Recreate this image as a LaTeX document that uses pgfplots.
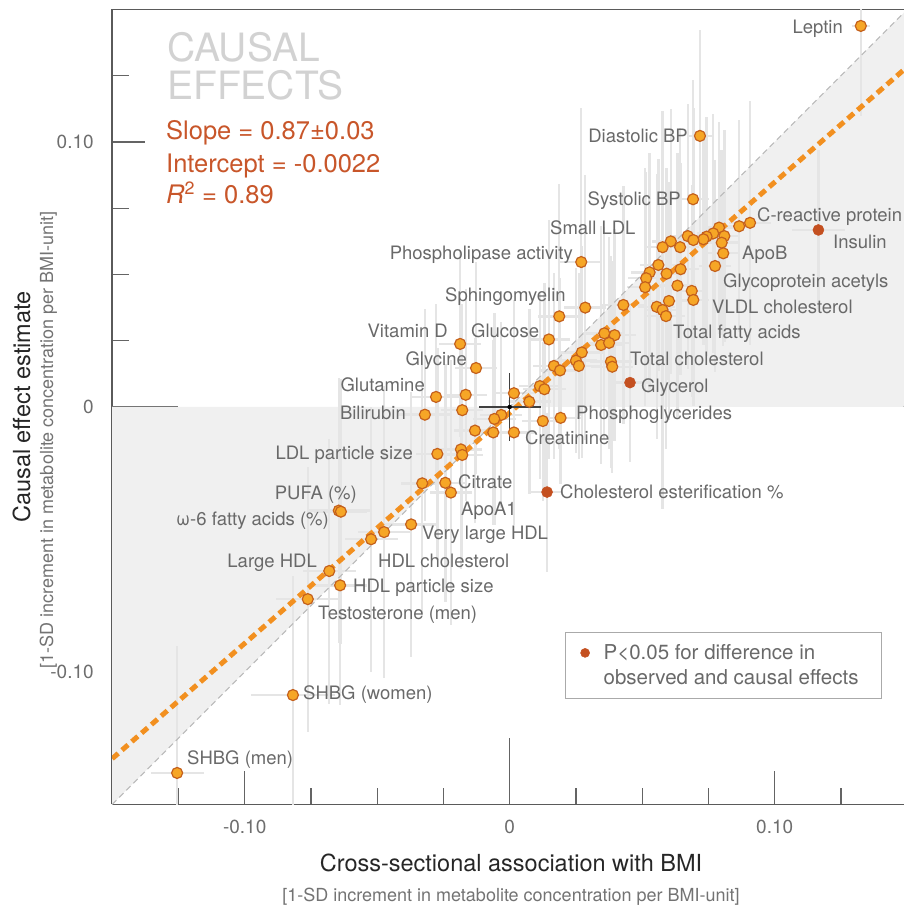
\documentclass[border=0pt]{standalone}
\usepackage{fontspec}
\setmainfont{TeX Gyre Heros}
\usepackage{pgfplots}
\pgfplotsset{compat=1.18}
\usepackage{pgfplotstable}

\definecolor{ptfill}{RGB}{246,166,38}
\definecolor{ptdraw}{RGB}{196,96,28}
\definecolor{sigcol}{RGB}{196,80,32}
\definecolor{fitorange}{RGB}{242,144,32}
\definecolor{stattext}{RGB}{200,86,42}
\definecolor{labelgray}{RGB}{105,105,105}
\definecolor{causalgray}{RGB}{210,210,210}
\definecolor{ebgray}{RGB}{229,229,229}
\definecolor{shade}{RGB}{240,240,240}
\definecolor{diaggray}{RGB}{185,185,185}
\definecolor{axisgray}{RGB}{90,90,90}
\definecolor{tickgray}{RGB}{100,100,100}
\definecolor{ticklabelgray}{RGB}{110,110,110}
\definecolor{legendgray}{RGB}{170,170,170}

\pgfplotstableread{
x y ex ey
0.1325 0.1438 0.0035 0.034
0.0718 0.1023 0.005 0.040
0.0692 0.0784 0.006 0.045
0.0907 0.0695 0.008 0.046
0.0866 0.0682 0.006 0.040
0.0790 0.0677 0.006 0.040
0.0810 0.0645 0.006 0.040
0.0800 0.0620 0.006 0.035
0.0806 0.0580 0.006 0.035
0.0775 0.0532 0.006 0.040
0.0768 0.0655 0.006 0.045
0.0743 0.0643 0.006 0.045
0.0731 0.0633 0.006 0.040
0.0672 0.0645 0.006 0.050
0.0693 0.0630 0.006 0.050
0.0608 0.0625 0.007 0.050
0.0577 0.0603 0.007 0.040
0.0643 0.0603 0.007 0.045
0.0561 0.0536 0.007 0.040
0.0528 0.0508 0.007 0.045
0.0592 0.0503 0.007 0.040
0.0645 0.0520 0.007 0.040
0.0515 0.0486 0.007 0.040
0.0511 0.0452 0.007 0.045
0.0633 0.0458 0.007 0.050
0.0687 0.0438 0.006 0.040
0.0693 0.0404 0.006 0.040
0.0601 0.0400 0.007 0.045
0.0555 0.0378 0.007 0.050
0.0577 0.0366 0.007 0.075
0.0590 0.0343 0.007 0.050
0.0429 0.0385 0.008 0.045
0.0285 0.0375 0.008 0.050
0.0187 0.0342 0.008 0.050
0.0270 0.0547 0.008 0.058
0.0148 0.0255 0.008 0.045
0.0357 0.0278 0.008 0.040
0.0396 0.0271 0.008 0.040
0.0345 0.0234 0.008 0.045
0.0375 0.0242 0.008 0.040
0.0272 0.0206 0.008 0.040
0.0250 0.0175 0.008 0.035
0.0261 0.0155 0.008 0.035
0.0382 0.0171 0.008 0.040
0.0387 0.0152 0.008 0.040
0.0167 0.0155 0.008 0.035
0.0190 0.0138 0.008 0.035
0.0114 0.0079 0.008 0.035
0.0131 0.0067 0.008 0.040
0.0016 0.0052 0.008 0.035
0.0074 0.0020 0.008 0.035
-0.0032 -0.0030 0.008 0.035
-0.0058 -0.0045 0.008 0.040
-0.0062 -0.0096 0.008 0.035
-0.0131 -0.0089 0.008 0.035
0.0016 -0.0096 0.008 0.035
0.0125 -0.0053 0.008 0.030
0.0192 -0.0041 0.008 0.025
-0.0187 0.0238 0.008 0.035
-0.0127 0.0147 0.008 0.040
-0.0278 0.0038 0.010 0.035
-0.0166 0.0046 0.008 0.040
-0.0320 -0.0029 0.010 0.040
-0.0179 -0.0012 0.008 0.040
-0.0273 -0.0177 0.008 0.040
-0.0184 -0.0160 0.008 0.045
-0.0179 -0.0181 0.008 0.040
-0.0330 -0.0288 0.008 0.050
-0.0243 -0.0286 0.008 0.045
-0.0222 -0.0323 0.008 0.050
-0.0372 -0.0443 0.010 0.050
-0.0474 -0.0472 0.010 0.055
-0.0523 -0.0499 0.010 0.050
-0.0681 -0.0619 0.010 0.050
-0.0640 -0.0673 0.010 0.045
-0.0762 -0.0725 0.012 0.050
-0.0645 -0.0391 0.012 0.050
-0.0637 -0.0395 0.010 0.050
-0.0818 -0.1087 0.016 0.045
-0.1255 -0.1381 0.010 0.048
}\ptdata

\pgfplotstableread{
x y ex ey
0.1165 0.0668 0.010 0.030
0.0454 0.0092 0.008 0.030
0.0141 -0.0321 0.006 0.030
}\sigdata

\begin{document}
\begin{tikzpicture}[x=1pt,y=1pt,
  lbl/.style={font=\fontsize{18.5}{18.5}\selectfont, text=labelgray, inner sep=0pt}]
\useasboundingbox (0,0) rectangle (904,910);
\begin{axis}[
  at={(112.2pt,105.5pt)}, anchor=south west,
  scale only axis, width=791.8pt, height=795pt,
  xmin=-0.15, xmax=0.1488, ymin=-0.15, ymax=0.15,
  axis x line*=box, axis y line*=left,
  axis line style={draw=axisgray, line width=1.5pt},
  xtick={-0.1,0.1}, xticklabels={-0.10,0.10},
  ytick={-0.1,0.1}, yticklabels={-0.10,0.10},
  extra x ticks={0}, extra x tick labels={0},
  extra y ticks={0}, extra y tick labels={0},
  extra tick style={major tick length=66pt},
  minor xtick={-0.125,-0.075,-0.05,-0.025,0.025,0.05,0.075,0.125},
  minor ytick={-0.125,-0.075,-0.05,-0.025,0.025,0.05,0.075,0.125},
  major tick length=33pt, minor tick length=16.5pt,
  tick align=inside,
  xtick pos=left, ytick pos=left,
  tick style={draw=tickgray, line width=1.2pt},
  tick label style={font=\fontsize{19}{19}\selectfont, text=ticklabelgray},
  xticklabel style={yshift=-12pt},
  yticklabel style={xshift=-15pt},
  legend style={at={(axis cs:0.0209,-0.0849)}, anchor=north west,
    draw=legendgray, line width=1pt, fill=white,
    font=\fontsize{20.5}{20.5}\selectfont, text=labelgray,
    inner xsep=11pt, inner ysep=10.5pt, row sep=5pt, column sep=12pt,
    nodes={text height=14.8pt, text depth=1pt, inner sep=2pt}},
  legend cell align=left,
  legend image post style={mark size=4.5pt},
]
\addplot[fill=shade, draw=none, forget plot] coordinates {(-0.15,-0.15) (-0.15,0) (0,0)};
\addplot[fill=shade, draw=none, forget plot] coordinates {(0,0) (0.16,0) (0.16,0.16)};
\addplot[only marks, mark=none, forget plot,
  error bars/.cd, x dir=both, x explicit, y dir=both, y explicit,
  error bar style={draw=ebgray, line width=2.4pt}, error mark=none]
  table[x=x, y=y, x error=ex, y error=ey] {\ptdata};
\addplot[only marks, mark=none, forget plot,
  error bars/.cd, x dir=both, x explicit, y dir=both, y explicit,
  error bar style={draw=ebgray, line width=2.4pt}, error mark=none]
  table[x=x, y=y, x error=ex, y error=ey] {\sigdata};
\addplot[draw=diaggray, line width=1pt, dash pattern=on 6pt off 4pt, forget plot]
  coordinates {(-0.15,-0.15) (0.15,0.15)};
\addplot[draw=fitorange, line width=5pt, dash pattern=on 8pt off 5pt, forget plot]
  coordinates {(-0.15,-0.1327) (0.1488,0.1273)};
\addplot[only marks, mark=none, forget plot,
  error bars/.cd, x dir=both, x fixed=0.0117, y dir=both, y fixed=0.013,
  error bar style={draw=black!75, line width=1.1pt}, error mark=none]
  coordinates {(0,0)};
\addplot[only marks, mark=*, mark size=5.5pt,
  mark options={fill=ptfill, draw=ptdraw, line width=1.2pt}, forget plot]
  table[x=x, y=y] {\ptdata};
\addplot[only marks, mark=*, mark size=5.5pt,
  mark options={fill=sigcol, draw=sigcol, line width=0.5pt}]
  table[x=x, y=y] {\sigdata};
\addlegendentry{P<0.05 for difference in}
\addlegendimage{empty legend}
\addlegendentry{observed and causal effects\hspace*{10pt}}
\draw[draw=tickgray, line width=1.2pt] (axis cs:0,0.15) -- ++(0,-65pt);
\draw[draw=tickgray, line width=1.2pt] (axis cs:0.1488,0) -- ++(-62pt,0);
\end{axis}

% title and statistics
\node[anchor=base west, inner sep=0pt, font=\fontsize{39}{39}\selectfont, text=causalgray] at (167,848) {CAUSAL};
\node[anchor=base west, inner sep=0pt, font=\fontsize{39}{39}\selectfont, text=causalgray] at (167,810) {EFFECTS};
\node[anchor=base west, inner sep=0pt, font=\fontsize{25.5}{25.5}\selectfont, text=stattext] at (166,770) {Slope = 0.87±0.03};
\node[anchor=base west, inner sep=0pt, font=\fontsize{25.5}{25.5}\selectfont, text=stattext] at (166,737) {Intercept = -0.0022};
\node[anchor=base west, inner sep=0pt, font=\fontsize{25.5}{25.5}\selectfont, text=stattext] at (166,706) {\textit{R}\textsuperscript{2} = 0.89};

% axis labels
\node[anchor=base, inner sep=0pt, font=\fontsize{23.5}{23.5}\selectfont, text=black!85] at (511,38) {Cross-sectional association with BMI};
\node[anchor=base, inner sep=0pt, font=\fontsize{18}{18}\selectfont, text=black!55] at (511,9) {[1-SD increment in metabolite concentration per BMI-unit]};
\node[anchor=base, rotate=90, inner sep=0pt, font=\fontsize{23.5}{23.5}\selectfont, text=black!85] at (30,503) {Causal effect estimate};
\node[anchor=base, rotate=90, inner sep=0pt, font=\fontsize{18}{18}\selectfont, text=black!55] at (53,470) {[1-SD increment in metabolite concentration per BMI-unit]};

% point labels
\node[lbl, anchor=base east] at (843,876) {Leptin};
\node[lbl, anchor=base east] at (688,767) {Diastolic BP};
\node[lbl, anchor=base east] at (681,704) {Systolic BP};
\node[lbl, anchor=base west] at (757,688) {C-reactive protein};
\node[lbl, anchor=base west] at (833,661) {Insulin};
\node[lbl, anchor=base west] at (550,675) {Small LDL};
\node[lbl, anchor=base west] at (742,650) {ApoB};
\node[lbl, anchor=base west] at (723,622) {Glycoprotein acetyls};
\node[lbl, anchor=base west] at (712,596) {VLDL cholesterol};
\node[lbl, anchor=base west] at (673,571) {Total fatty acids};
\node[lbl, anchor=base west] at (630,544) {Total cholesterol};
\node[lbl, anchor=base west] at (641,517) {Glycerol};
\node[lbl, anchor=base west] at (576,490) {Phosphoglycerides};
\node[lbl, anchor=base west] at (525,465) {Creatinine};
\node[lbl, anchor=base west] at (560,411) {Cholesterol esterification \%};
\node[lbl, anchor=base east] at (573,650) {Phospholipase activity};
\node[lbl, anchor=base west] at (445,608) {Sphingomyelin};
\node[lbl, anchor=base east] at (448,572) {Vitamin D};
\node[lbl, anchor=base west] at (471,572) {Glucose};
\node[lbl, anchor=base east] at (467,544) {Glycine};
\node[lbl, anchor=base east] at (425,518) {Glutamine};
\node[lbl, anchor=base east] at (406,490) {Bilirubin};
\node[lbl, anchor=base east] at (413,450) {LDL particle size};
\node[lbl, anchor=base west] at (458,421) {Citrate};
\node[lbl, anchor=base west] at (461,394) {ApoA1};
\node[lbl, anchor=base east] at (357,410) {PUFA (\%)};
\node[lbl, anchor=base east] at (329,384) {ω-6 fatty acids (\%)};
\node[lbl, anchor=base west] at (422,370) {Very large HDL};
\node[lbl, anchor=base west] at (378,342) {HDL cholesterol};
\node[lbl, anchor=base east] at (317,342) {Large HDL};
\node[lbl, anchor=base west] at (353,317) {HDL particle size};
\node[lbl, anchor=base west] at (318,290) {Testosterone (men)};
\node[lbl, anchor=base west] at (303,210) {SHBG (women)};
\node[lbl, anchor=base west] at (187,145) {SHBG (men)};
\end{tikzpicture}
\end{document}
